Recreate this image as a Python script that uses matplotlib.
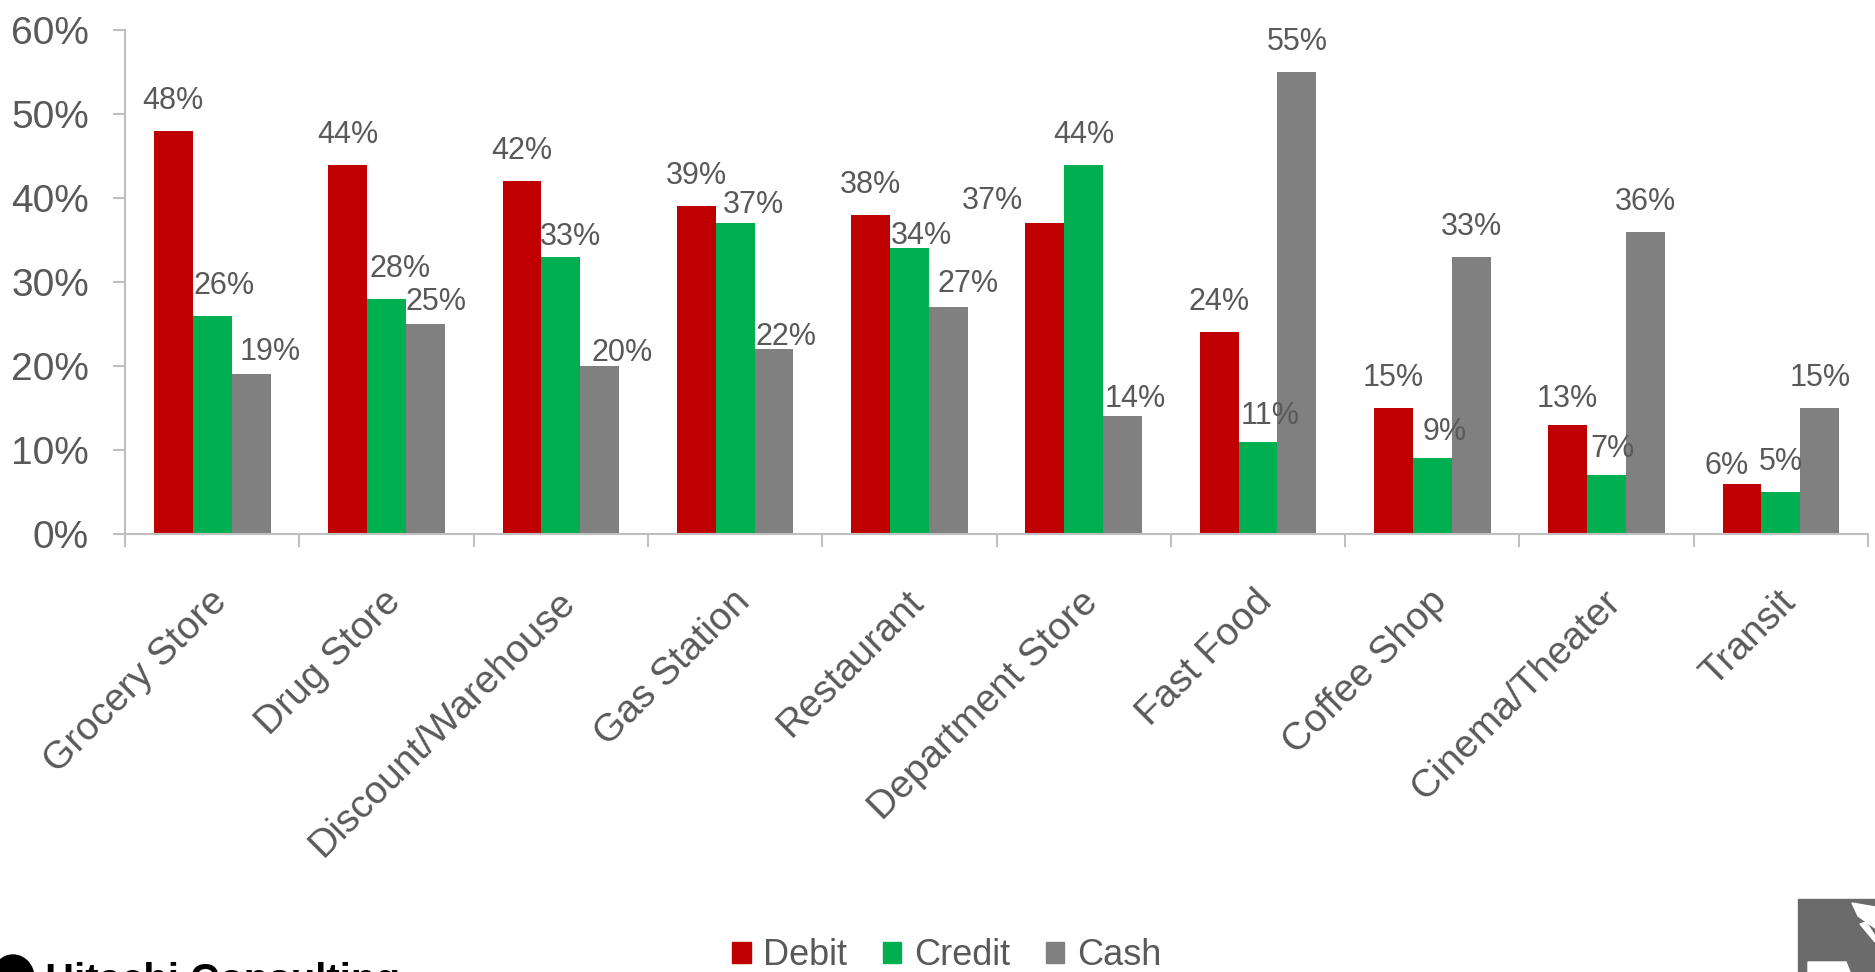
import matplotlib
matplotlib.use("Agg")
import matplotlib.pyplot as plt
import matplotlib.transforms as mtransforms
from matplotlib.patches import Patch, Rectangle, Ellipse, Polygon
import numpy as np

# --- DATA ---
categories = ["Grocery Store", "Drug Store", "Discount/Warehouse", "Gas Station",
              "Restaurant", "Department Store", "Fast Food", "Coffee Shop",
              "Cinema/Theater", "Transit"]
debit = [48, 44, 42, 39, 38, 37, 24, 15, 13, 6]
credit = [26, 28, 33, 37, 34, 44, 11, 9, 7, 5]
cash = [19, 25, 20, 22, 27, 14, 55, 33, 36, 15]
series_names = ["Debit", "Credit", "Cash"]
y_ticks = [0, 10, 20, 30, 40, 50, 60]

# --- STYLE ---
COLORS = ["#C00000", "#00B050", "#808080"]
TEXT = "#595959"
AXIS = "#BFBFBF"
BAR_W = 0.223
LABEL_GAP = 22  # px between bar top and label baseline
# label nudges in pixels (dx, dy up), where the labels were moved to avoid overlap
NUDGE = {(0, 1): (12, 0), (0, 2): (19, -8), (1, 1): (14, 0), (1, 2): (11, -8),
         (2, 1): (10, -10), (2, 2): (22, -17), (3, 1): (18, -12), (3, 2): (12, -18),
         (4, 1): (12, -18), (4, 2): (20, -7), (5, 0): (-52, -8), (5, 2): (13, -13),
         (6, 1): (12, -4), (7, 1): (12, -4), (8, 0): (0, -4), (8, 1): (6, -4),
         (9, 0): (-15, -12)}

plt.rcParams['font.family'] = ['Liberation Sans', 'DejaVu Sans']

fig = plt.figure(figsize=(18.75, 9.72), dpi=100)
ax = fig.add_axes([0.0667, 0.4506, 0.9296, 0.5184])

x = np.arange(len(categories))
px = 72.0 / fig.dpi  # points per pixel

for s, vals in enumerate([debit, credit, cash]):
    xs = x + (s - 1) * BAR_W
    ax.bar(xs, vals, width=BAR_W, color=COLORS[s], zorder=2)
    for i, v in enumerate(vals):
        dx, dy = NUDGE.get((i, s), (0, 0))
        ax.annotate(f"{v}%", (xs[i], v), xytext=(dx * px, (LABEL_GAP + dy) * px),
                    textcoords="offset points", ha="center", va="baseline",
                    fontsize=22, color=TEXT)

ax.set_xlim(-0.5, len(categories) - 0.5)
ax.set_ylim(0, 60)
ax.set_yticks(y_ticks)
ax.set_yticklabels([f"{t}%" for t in y_ticks])

# tick marks between groups, labels at group centres
ax.set_xticks(x)
ax.set_xticklabels(categories, rotation=45, ha="right", va="center", rotation_mode="anchor")
ax.set_xticks(np.arange(len(categories) + 1) - 0.5, minor=True)
ax.tick_params(axis="x", which="major", length=0, pad=45, labelsize=28, labelcolor=TEXT)
ax.tick_params(axis="x", which="minor", length=9, width=1.5, color=AXIS, direction="out")
ax.tick_params(axis="y", length=9, width=1.5, color=AXIS, pad=17, labelsize=28, labelcolor=TEXT)

shift = mtransforms.ScaledTranslation(9 / fig.dpi, 0, fig.dpi_scale_trans)
for lab in ax.get_xticklabels():
    lab.set_transform(lab.get_transform() + shift)

for side in ["top", "right"]:
    ax.spines[side].set_visible(False)
for side in ["left", "bottom"]:
    ax.spines[side].set_color(AXIS)
    ax.spines[side].set_linewidth(1.5)

# legend
handles = [Patch(color=c, label=n) for c, n in zip(COLORS, series_names)]
leg = fig.legend(handles=handles, loc="center", bbox_to_anchor=(0.505, 0.0165), ncol=3,
                 frameon=False, fontsize=26, handlelength=0.5, handleheight=0.5,
                 handletextpad=0.35, columnspacing=1.0, borderpad=0)
for t in leg.get_texts():
    t.set_color(TEXT)

# logos at the bottom, cut off by the frame
W, H = 1875.0, 972.0
fig.text(45 / W, 1 - 962 / H, "Hitachi Consulting", fontsize=29, fontweight="bold",
         color="black", va="top", ha="left")
fig.add_artist(Ellipse((13 / W, 1 - 978 / H), 42 / W, 46 / H, transform=fig.transFigure,
                       color="black"))
fig.add_artist(Rectangle((1798 / W, 0), 77 / W, 73 / H, transform=fig.transFigure,
                         color="#6B6B6B"))
for pts in [[(1852, 903), (1875, 907), (1875, 928), (1858, 916)],
            [(1860, 924), (1866, 922), (1875, 936), (1875, 942)],
            [(1808, 962), (1846, 962), (1850, 972), (1808, 972)]]:
    fig.add_artist(Polygon([(a / W, 1 - b / H) for a, b in pts], closed=True,
                           transform=fig.transFigure, color="white"))

fig.savefig("out.png", dpi=100)
